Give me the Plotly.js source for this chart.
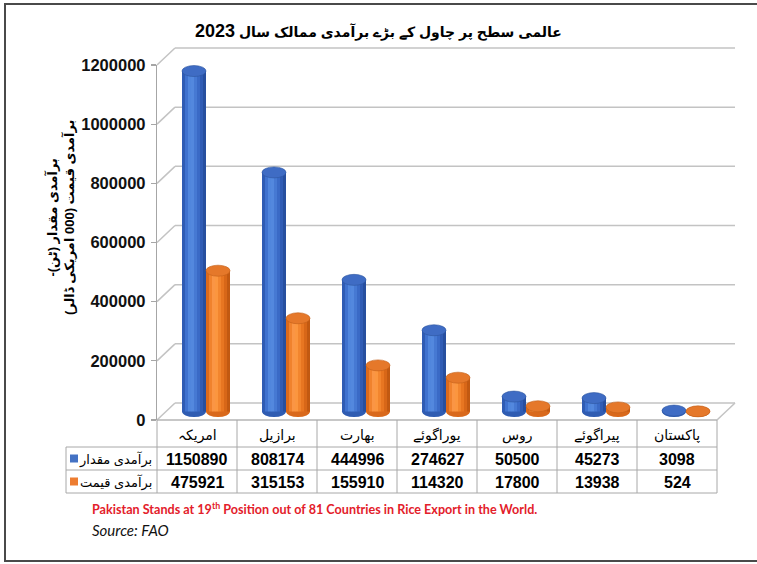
<!DOCTYPE html>
<html><head><meta charset="utf-8">
<script src="https://cdn.plot.ly/plotly-3.0.1.min.js"></script>
<style>body{margin:0;background:#fff}#chart{width:757px;height:564px}</style>
</head><body><div id="chart"></div>
<script>
// ---- data ----
const categories = ['امریکہ','برازیل','بھارت','یوراگوئے','روس','پیراگوئے','پاکستان'];
const quantity = [1150890, 808174, 444996, 274627, 50500, 45273, 3098];
const exportValue = [475921, 315153, 155910, 114320, 17800, 13938, 524];
const seriesNames = ['برآمدی مقدار', 'برآمدی قیمت'];
const yTicks = [0, 200000, 400000, 600000, 800000, 1000000, 1200000];
const titleArabic = 'عالمی سطح پر چاول کے بڑے برآمدی ممالک سال';
const titleYear = '2023';
const yTitleLines = ['برآمدی مقدار (ٹن)-\u200F', 'برآمدی قیمت (000 امریکی ڈالر)'];
const noteText = 'Pakistan Stands at 19<sup>th</sup> Position out of 81 Countries in Rice Export in the World.';
const sourceText = 'Source: FAO';

// ---- geometry (pixels) ----
const W = 757, H = 564;
const X = px => px / W, Y = py => 1 - py / H;
const FL = 157, FR = 717, F0 = 420, FT = 65;
const DX = 18, DY = 17;
const YMAX = 1200000;
const k = (F0 - FT) / YMAX;
const fy = v => F0 - v * k;
const by = v => F0 - DY - v * k;
const M0 = F0 - DY / 2;
const R0 = -30000, R1 = 1230000;
const yDom = [Y(M0 - R0 * k), Y(M0 - R1 * k)];
const xDom = [X(FL + DX / 2), X(FR + DX / 2)];
const FONT = 'Arial, "Liberation Sans", "DejaVu Sans", sans-serif';

const series = [quantity, exportValue];
const stripeColors = [
  ['#2f5cb4','#3f72cf','#5086dd','#5388de','#4679d3','#3a6ac6','#305cb5','#274f9f'],
  ['#dc6a1d','#f0822d','#fa9545','#fb963f','#f2852e','#e87621','#d86718','#c25911']
];
const capColors = ['#3f6cc4', '#e5782a'];
const capLine = ['#2d559f', '#c2601a'];
const baseColors = ['#2f5cb2', '#d9691c'];
const BW = 0.3, NS = 8, SW = BW / NS;
const offs = [-BW, 0];

const traces = [];
series.forEach((vals, s) => {
  for (let j = 0; j < NS; j++) {
    traces.push({
      type: 'bar', x: categories, y: vals,
      offset: offs[s] + j * SW, width: SW + (j < NS - 1 ? 0.004 : 0),
      marker: {color: stripeColors[s][j], line: {width: 0}},
      showlegend: false, hoverinfo: 'skip', xaxis: 'x', yaxis: 'y'
    });
  }
});
// empty trace so that the front value axis (y2) is drawn
traces.push({type: 'scatter', x: [], y: [], xaxis: 'x2', yaxis: 'y2', showlegend: false, hoverinfo: 'skip'});

const shapes = [];
const hh = 5.5 / k;
const line = (x0, y0, x1, y1, color, width, layer) => shapes.push({
  type: 'line', xref: 'paper', yref: 'paper', x0: X(x0), y0: Y(y0), x1: X(x1), y1: Y(y1),
  line: {color: color, width: width}, layer: layer || 'below'
});

// frame
shapes.push({type: 'rect', xref: 'paper', yref: 'paper', x0: X(5), y0: Y(561), x1: 1.02, y1: Y(4),
  line: {color: '#4a4a4a', width: 2}, layer: 'below'});

// 3D walls: back gridlines + side diagonals
yTicks.forEach(v => {
  line(FL + DX, by(v), FR + DX, by(v), '#c3c3c3', 1.5);
  line(FL, fy(v), FL + DX, by(v), '#c3c3c3', 1.5);
});
// floor front & right edges
line(FL, F0, FR, F0, '#b5b5b5', 1.5);
line(FR, F0, FR + DX, F0 - DY, '#c3c3c3', 1.5);

// bottom ellipses of cylinders
series.forEach((vals, s) => {
  vals.forEach((v, i) => {
    shapes.push({type: 'circle', xref: 'x', yref: 'y', x0: i + offs[s], x1: i + offs[s] + BW,
      y0: -hh, y1: hh, fillcolor: baseColors[s], line: {width: 0}, layer: 'below'});
  });
});
// top caps
series.forEach((vals, s) => {
  vals.forEach((v, i) => {
    shapes.push({type: 'circle', xref: 'x', yref: 'y', x0: i + offs[s], x1: i + offs[s] + BW,
      y0: v - hh, y1: v + hh, fillcolor: capColors[s], line: {color: capLine[s], width: 0.6}, layer: 'above'});
  });
});

// table grid
const TL = 66;
const colX = [FL];
categories.forEach((c, i) => colX.push(FL + (i + 1) * (FR - FL) / categories.length));
[447, 470, 493].forEach(yy => line(TL, yy, FR, yy, '#a8a8a8', 1, 'above'));
colX.forEach(xx => line(xx, F0, xx, 493, '#a8a8a8', 1, 'above'));
line(TL, 447, TL, 493, '#a8a8a8', 1, 'above');
// legend swatches
const legendColors = ['#4472c4', '#ed7d31'];
[458.5, 481.5].forEach((yc, s) => shapes.push({type: 'rect', xref: 'paper', yref: 'paper',
  x0: X(70), x1: X(78), y0: Y(yc + 4), y1: Y(yc - 4), fillcolor: legendColors[s], line: {width: 0}, layer: 'above'}));

const annotations = [];
annotations.push({xref: 'paper', yref: 'paper', x: X(378), y: Y(31),
  text: '<b>' + titleArabic + ' <span style="font-size:18px">' + titleYear + '</span></b>',
  showarrow: false, font: {family: FONT, size: 14, color: '#000'}, xanchor: 'center', yanchor: 'middle'});
annotations.push({xref: 'paper', yref: 'paper', x: X(60), y: Y(218), text: '<b>' + yTitleLines.join('<br>') + '</b>',
  textangle: -90, showarrow: false, font: {family: FONT, size: 13, color: '#000'}, xanchor: 'center', yanchor: 'middle'});
categories.forEach((c, i) => {
  annotations.push({xref: 'x', yref: 'paper', x: c, xshift: -DX / 2, y: Y(435), text: c, showarrow: false,
    font: {family: FONT, size: 14, color: '#000'}, yanchor: 'middle'});
  annotations.push({xref: 'x', yref: 'paper', x: c, xshift: -DX / 2, y: Y(459), text: '<b>' + quantity[i] + '</b>', showarrow: false,
    font: {family: FONT, size: 16, color: '#000'}, yanchor: 'middle'});
  annotations.push({xref: 'x', yref: 'paper', x: c, xshift: -DX / 2, y: Y(482), text: '<b>' + exportValue[i] + '</b>', showarrow: false,
    font: {family: FONT, size: 16, color: '#000'}, yanchor: 'middle'});
});
[459, 482].forEach((yc, s) => annotations.push({xref: 'paper', yref: 'paper', x: X(154), y: Y(yc),
  text: seriesNames[s], showarrow: false, xanchor: 'right', yanchor: 'middle', font: {family: FONT, size: 13, color: '#000'}}));
annotations.push({xref: 'paper', yref: 'paper', x: X(90), y: Y(508), text: '<b>' + noteText + '</b>', showarrow: false,
  xanchor: 'left', yanchor: 'middle', font: {family: 'Lato, "Open Sans", sans-serif', size: 12.6, color: '#e3202a'}});
annotations.push({xref: 'paper', yref: 'paper', x: X(90), y: Y(530), text: '<i>' + sourceText + '</i>', showarrow: false,
  xanchor: 'left', yanchor: 'middle', font: {family: 'Lato, "Open Sans", sans-serif', size: 15, color: '#111'}});

const layout = {
  width: W, height: H, margin: {l: 0, r: 0, t: 0, b: 0},
  paper_bgcolor: '#fff', plot_bgcolor: 'rgba(0,0,0,0)',
  barmode: 'overlay', showlegend: false,
  xaxis: {domain: xDom, type: 'category', range: [-0.5, categories.length - 0.5], showticklabels: false,
    showgrid: false, zeroline: false, showline: false, ticks: '', fixedrange: true},
  yaxis: {domain: yDom, range: [R0, R1], visible: false, fixedrange: true},
  xaxis2: {domain: [X(FL), X(FR)], anchor: 'y2', range: [0, 1], visible: false, fixedrange: true},
  yaxis2: {domain: [Y(F0), Y(FT)], anchor: 'x2', range: [0, YMAX], tickvals: yTicks, ticktext: yTicks.map(String),
    ticks: 'outside', ticklen: 5, tickcolor: '#a6a6a6', tickwidth: 1.2, showline: true, linecolor: '#a6a6a6', linewidth: 1.2,
    showgrid: false, zeroline: false, fixedrange: true, ticklabelstandoff: 2,
    tickfont: {family: FONT, size: 16.5, color: '#111', weight: 'bold'}},
  shapes: shapes, annotations: annotations
};
Plotly.newPlot('chart', traces, layout, {displayModeBar: false, staticPlot: true});
</script></body></html>
